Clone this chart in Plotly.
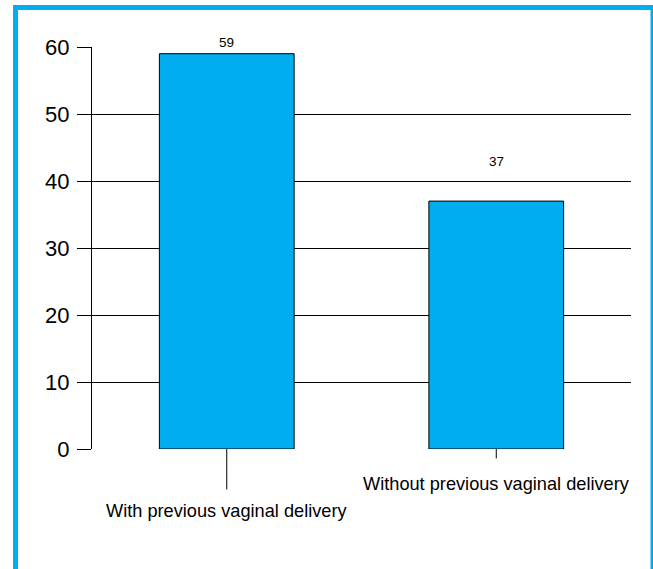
import plotly.graph_objects as go

categories = ["With previous vaginal delivery", "Without previous vaginal delivery"]
values = [59, 37]
y_ticks = [0, 10, 20, 30, 40, 50, 60]

BLUE = "#00AEEF"
W, H = 653, 569
ML, MR, MT, MB = 92, 22, 47, 120
PW, PH = W - ML - MR, H - MT - MB

def px_x(p):
    return (p - ML) / PW

def px_y(p):
    return (H - MB - p) / PH

fig = go.Figure()
fig.add_trace(go.Bar(
    x=categories, y=values, width=0.5,
    marker=dict(color=BLUE, line=dict(color="black", width=1)),
    hoverinfo="skip",
))

label_shift = [2, 30]
for cat, v, s in zip(categories, values, label_shift):
    fig.add_annotation(x=cat, y=v, text=str(v), showarrow=False, yanchor="bottom",
                       yshift=s, font=dict(family="Liberation Sans, Arial", size=13.5, color="black"))

# staggered category labels with tick lines
cat_offsets = [62, 35]
cat_standoff = [10, 14]
for cat, ay, so in zip(categories, cat_offsets, cat_standoff):
    fig.add_annotation(x=cat, y=0, ax=0, ay=ay, text=cat, showarrow=True, arrowhead=0,
                       arrowwidth=1, arrowcolor="black", startstandoff=so, standoff=0,
                       font=dict(family="Liberation Sans, Arial", size=18.2, color="black"))

fig.add_shape(type="rect", xref="paper", yref="paper",
              x0=px_x(15.5), x1=px_x(653), y0=px_y(620), y1=px_y(7.5),
              line=dict(color=BLUE, width=5), fillcolor="rgba(0,0,0,0)", layer="below")

fig.update_layout(
    width=W, height=H, margin=dict(l=ML, r=MR, t=MT, b=MB),
    plot_bgcolor="white", paper_bgcolor="white", showlegend=False,
    xaxis=dict(range=[-0.5, 1.5], showticklabels=False, ticks="", showgrid=False,
               zeroline=False, showline=False),
    yaxis=dict(range=[0, 60], tickvals=y_ticks, ticks="outside", ticklen=14, tickcolor="black",
               ticklabelstandoff=3,
               showline=True, linecolor="black", linewidth=1, showgrid=True, gridcolor="black",
               gridwidth=1, zeroline=False,
               tickfont=dict(family="Liberation Sans, Arial", size=22, color="black")),
)
fig.write_html("out.html")
